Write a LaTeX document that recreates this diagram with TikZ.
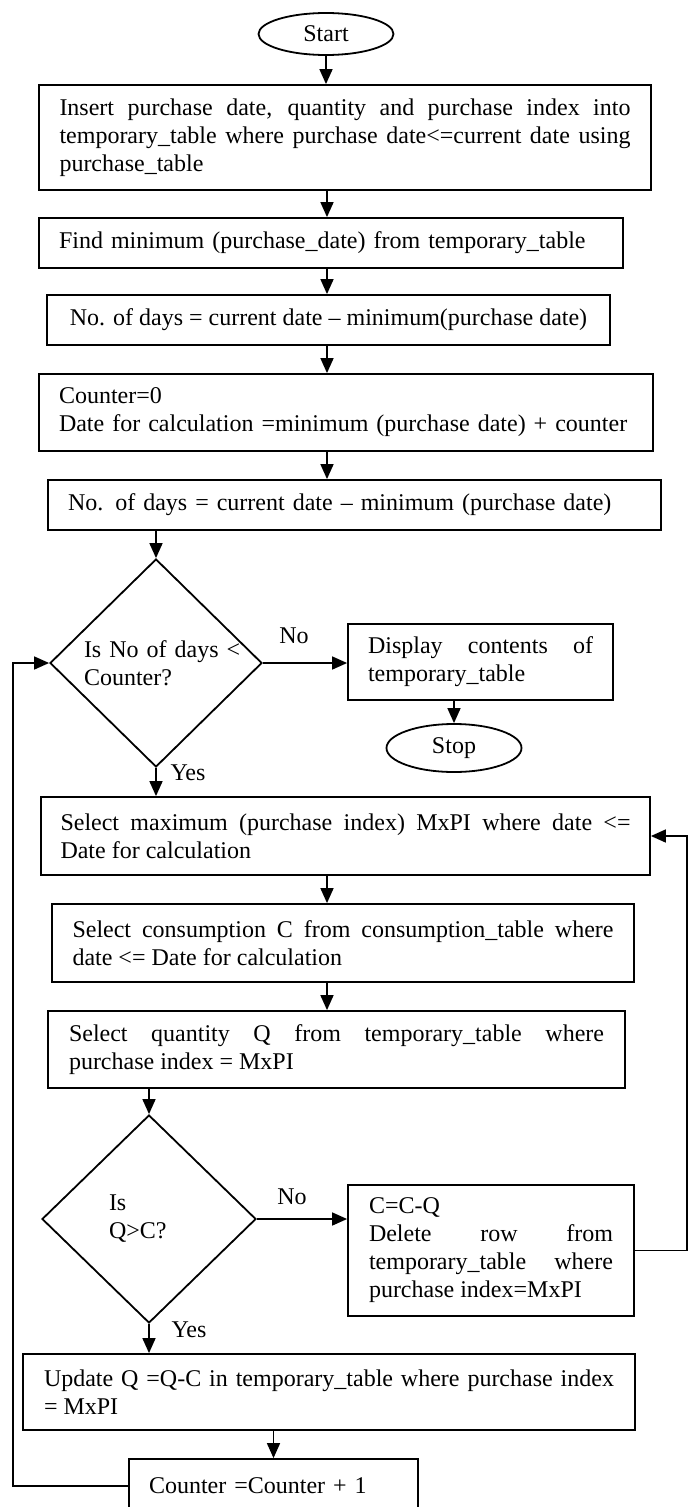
\documentclass[tikz,border=0pt]{standalone}
\usepackage{fontspec}
\setmainfont{Liberation Serif}
\usetikzlibrary{shapes.geometric,arrows.meta}
\hyphenpenalty=10000
\exhyphenpenalty=10000
\tolerance=10000
\hbadness=10000
\hfuzz=20pt
\begin{document}
\begin{tikzpicture}[x=1pt,y=-1pt,
  every node/.append style={font=\fontsize{24pt}{28pt}\selectfont},
  pbox/.style={draw, line width=1.8pt, rectangle, inner ysep=0pt},
  ell/.style={draw, line width=1.8pt, ellipse, inner sep=0pt},
  dia/.style={draw, line width=1.8pt, diamond, inner sep=0pt, align=left},
  arr/.style={line width=1.6pt, -{Triangle[length=15pt,width=13pt]}},
  lbl/.style={inner sep=0pt}]
\useasboundingbox (0,0) rectangle (692,1507);
\clip (0,0) rectangle (692,1507);
\fill[white] (0,0) rectangle (692,1507);

\coordinate (cx) at (327,0);
\coordinate (lx) at (13,0);
\coordinate (rx) at (687,0);

\node[ell, minimum width=135pt, minimum height=42pt] (start) at (326,34) {Start};

\node[pbox, minimum width=612pt, minimum height=105pt, text width=571pt, inner xsep=20.5pt, align=justify] (b1) at (345,137.5)
  {Insert purchase date, quantity and purchase index into\linebreak temporary\_table where purchase date<=current date using\linebreak purchase\_table};

\node[pbox, minimum width=584pt, minimum height=50pt, text width=544pt, inner xsep=20pt, align=left] (b2) at (331,243)
  {Find minimum (purchase\_date) from temporary\_table};

\node[pbox, minimum width=563pt, minimum height=50pt, inner xsep=10pt, align=center] (b3) at (328.5,320)
  {No. of days = current date – minimum(purchase date)};

\node[pbox, minimum width=614pt, minimum height=77pt, text width=574pt, inner xsep=20pt, align=left] (b4) at (346,412.5)
  {Counter=0\\Date for calculation =minimum (purchase date) + counter};

\node[pbox, minimum width=613pt, minimum height=50pt, text width=573pt, inner xsep=20pt, align=left] (b5) at (354.5,505)
  {No. of days = current date – minimum (purchase date)};

\node[dia, minimum width=212pt, minimum height=208pt, text width=144pt] (d1) at (156,663)
  {Is~No~of~days~<\\Counter?};

\node[pbox, minimum width=265pt, minimum height=76pt, text width=225pt, inner xsep=20pt, align=justify] (disp) at (480.5,662)
  {Display contents of\linebreak temporary\_table};

\node[ell, minimum width=135pt, minimum height=48pt] (stop) at (454,748) {Stop};

\node[pbox, minimum width=609pt, minimum height=78pt, text width=570pt, inner xsep=19.5pt, align=justify] (b6) at (345.5,836)
  {Select maximum (purchase index) MxPI where date <=\linebreak Date for calculation};

\node[pbox, minimum width=582pt, minimum height=78pt, text width=541pt, inner xsep=20.5pt, align=justify] (b7) at (343,943)
  {Select consumption C from consumption\_table where\linebreak date <= Date for calculation};

\node[pbox, minimum width=577pt, minimum height=77pt, text width=535pt, inner xsep=21pt, align=justify] (b8) at (336.5,1049.5)
  {Select quantity Q from temporary\_table where\linebreak purchase index = MxPI};

\node[dia, minimum width=214pt, minimum height=208pt, text width=80pt] (d2) at (149,1219)
  {Is\\Q>C?};

\node[pbox, minimum width=286pt, minimum height=131pt, text width=244pt, inner xsep=21pt, align=justify] (bc) at (491,1250.5)
  {C=C-Q\\Delete row from\linebreak temporary\_table where\linebreak purchase index=MxPI};

\node[pbox, minimum width=612pt, minimum height=76pt, text width=570pt, inner xsep=21pt, align=justify] (b9) at (329,1392)
  {Update Q =Q-C in temporary\_table where purchase index\linebreak = MxPI};

\node[pbox, minimum width=289pt, minimum height=54pt, text width=249pt, inner xsep=20pt, align=left] (b10) at (273.5,1486)
  {Counter =Counter + 1};

\node[lbl] (no1) at (294,636) {No};
\node[lbl] (yes1) at (188,773) {Yes};
\node[lbl] (no2) at (292,1197) {No};
\node[lbl] (yes2) at (189,1330) {Yes};

\draw[arr] (start.south) -- (start.south |- b1.north);
\draw[arr] (b1.south -| cx) -- (b2.north -| cx);
\draw[arr] (b2.south -| cx) -- (b3.north -| cx);
\draw[arr] (b3.south -| cx) -- (b4.north -| cx);
\draw[arr] (b4.south -| cx) -- (b5.north -| cx);
\draw[arr] (b5.south -| d1.north) -- (d1.north);
\draw[arr] (d1.east) -- (d1.east -| disp.west);
\draw[arr] (disp.south -| stop.north) -- (stop.north);
\draw[arr] (d1.south) -- (d1.south |- b6.north);
\draw[arr] (b6.south -| cx) -- (b7.north -| cx);
\draw[arr] (b7.south -| cx) -- (b8.north -| cx);
\draw[arr] (b8.south -| d2.north) -- (d2.north);
\draw[arr] (d2.east) -- (d2.east -| bc.west);
\draw[arr] (bc.east) -- (bc.east -| rx) |- (b6.east);
\draw[arr] (d2.south) -- (d2.south |- b9.north);
\draw[arr] (b9.south -| b10.north) -- (b10.north);
\draw[arr] (b10.west) -- (b10.west -| lx) |- (d1.west);
\end{tikzpicture}
\end{document}
